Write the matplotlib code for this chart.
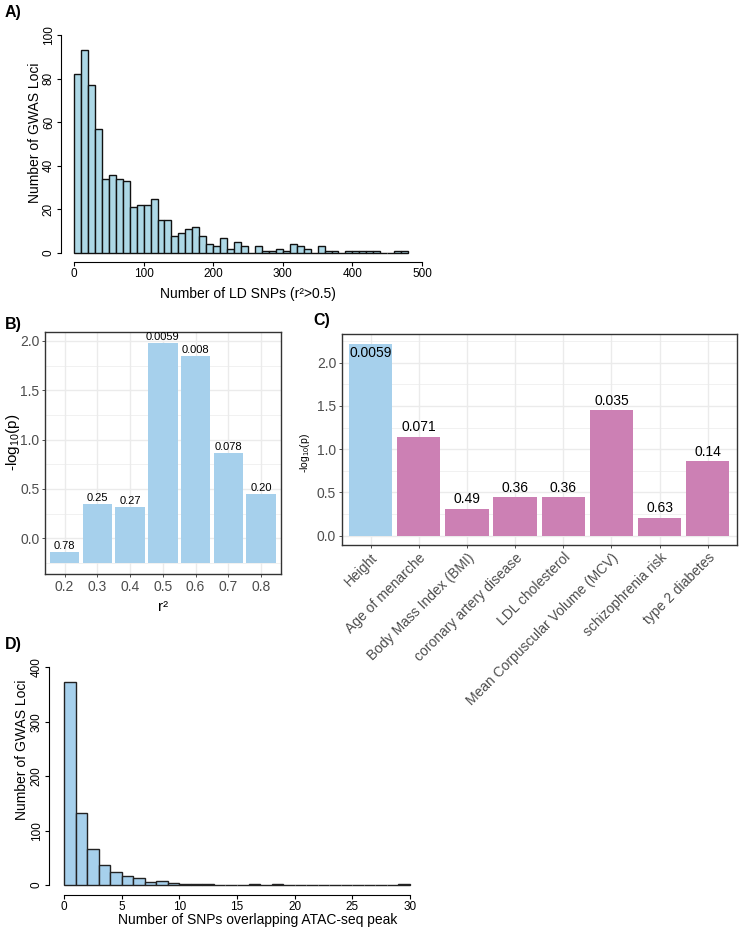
import numpy as np
import matplotlib
matplotlib.use('Agg')
import matplotlib.pyplot as plt
from matplotlib.transforms import ScaledTranslation

plt.rcParams['font.family'] = ['Liberation Sans', 'DejaVu Sans']
plt.rcParams['mathtext.fontset'] = 'custom'
plt.rcParams['mathtext.rm'] = 'Liberation Sans'
plt.rcParams['mathtext.it'] = 'Liberation Sans:italic'
plt.rcParams['mathtext.bf'] = 'Liberation Sans:bold'

# ---- data ----
# A) histogram of LD SNP counts, bins of 10 from 0 to 480
ld_bin_width = 10
ld_counts = [82, 93, 77, 57, 34, 36, 34, 33, 21, 22,
             22, 25, 15, 15, 8, 9, 11, 12, 8, 4,
             3, 7, 2, 5, 3, 0, 3, 1, 1, 2,
             1, 4, 3, 2, 0, 3, 1, 1, 0, 1,
             1, 1, 1, 1, 0, 0, 1, 1]

# B) enrichment by r2 threshold (bars start at -0.25)
r2_labels = ['0.2', '0.3', '0.4', '0.5', '0.6', '0.7', '0.8']
r2_heights = [-0.14, 0.35, 0.32, 1.98, 1.85, 0.86, 0.45]
r2_pvals = ['0.78', '0.25', '0.27', '0.0059', '0.008', '0.078', '0.20']
r2_base = -0.25

# C) enrichment by trait
traits = ['Height', 'Age of menarche', 'Body Mass Index (BMI)',
          'coronary artery disease', 'LDL cholesterol',
          'Mean Corpuscular Volume (MCV)', 'schizophrenia risk',
          'type 2 diabetes']
trait_heights = [2.22, 1.145, 0.31, 0.444, 0.444, 1.45, 0.205, 0.86]
trait_pvals = ['0.0059', '0.071', '0.49', '0.36', '0.36', '0.035', '0.63', '0.14']

# D) histogram of SNPs overlapping ATAC-seq peaks, bins of 1 from 0 to 30
atac_counts = [373, 132, 67, 37, 23, 17, 12, 5, 7, 3,
               1, 1, 1, 0, 0, 0, 1, 0, 1, 0,
               0, 0, 0, 0, 0, 0, 0, 0, 0, 1]

BLUE = '#A6D0EC'
PINK = '#CC80B4'
GREY_TXT = '#4D4D4D'
GRID = '#EBEBEB'

W, H = 741, 933
fig = plt.figure(figsize=(W / 100, H / 100), dpi=100)
PT = 72 / 100  # points per pixel


def px_axes(l, t, r, b):
    return fig.add_axes([l / W, 1 - b / H, (r - l) / W, (b - t) / H])


def ftext(x, y, s, **kw):
    fig.text(x / W, 1 - y / H, s, **kw)


def r_style(ax, xoff, yoff):
    for s in ['top', 'right']:
        ax.spines[s].set_visible(False)
    ax.spines['left'].set_position(('outward', xoff * PT))
    ax.spines['bottom'].set_position(('outward', yoff * PT))
    ax.tick_params(direction='out', length=4 * PT, width=0.8, pad=1.5,
                   labelsize=8.5, color='black')


# ---------------- A ----------------
ax1 = px_axes(74, 35, 422, 253)
edges = np.arange(len(ld_counts)) * ld_bin_width
ax1.bar(edges, ld_counts, width=ld_bin_width, align='edge', color='#ADD8E6',
        edgecolor='#111111', linewidth=1.0, clip_on=False)
ax1.set_xlim(0, 500)
ax1.set_ylim(0, 100)
r_style(ax1, 13, 9)
ax1.set_xticks(range(0, 501, 100))
ax1.set_yticks(range(0, 101, 20))
ax1.set_yticklabels([str(v) for v in range(0, 101, 20)], rotation=90, va='center')
ax1.spines['left'].set_bounds(0, 100)
ax1.spines['bottom'].set_bounds(0, 500)
ftext(5, 13, 'A)', fontsize=11.5, fontweight='bold', va='center')
ftext(35, 133, 'Number of GWAS Loci', fontsize=10, rotation=90, ha='center', va='center')
ftext(248, 294, 'Number of LD SNPs (r²>0.5)', fontsize=10, ha='center', va='center')

# ---------------- B ----------------
ax2 = px_axes(45, 331.7, 280.7, 574)
xb = np.arange(1, len(r2_labels) + 1)
ax2.bar(xb, np.array(r2_heights) - r2_base, bottom=r2_base, width=0.9,
        color=BLUE, zorder=2)
for x, h, p in zip(xb, r2_heights, r2_pvals):
    ax2.text(x, h + 0.01, p, ha='center', va='bottom', fontsize=8, zorder=3)
ax2.set_xlim(0.4, 7.6)
ax2.set_ylim(-0.362, 2.093)
ax2.set_xticks(xb)
ax2.set_xticklabels(r2_labels)
ax2.set_yticks([0, 0.5, 1.0, 1.5, 2.0])
ax2.set_yticklabels(['0.0', '0.5', '1.0', '1.5', '2.0'])
ax2.set_yticks([-0.25, 0.25, 0.75, 1.25, 1.75], minor=True)

# ---------------- C ----------------
ax3 = px_axes(341.7, 334.3, 736.7, 545)
xc = np.arange(1, len(traits) + 1)
cols = [BLUE] + [PINK] * (len(traits) - 1)
ax3.bar(xc, trait_heights, width=0.9, color=cols, zorder=2)
for i, (x, h, p) in enumerate(zip(xc, trait_heights, trait_pvals)):
    if i == 0:
        ax3.text(x, h - 0.03, p, ha='center', va='top', fontsize=10, zorder=3)
    else:
        ax3.text(x, h + 0.03, p, ha='center', va='bottom', fontsize=10, zorder=3)
ax3.set_xlim(0.4, 8.6)
ax3.set_ylim(-0.107, 2.328)
ax3.set_xticks(xc)
ax3.set_xticklabels(traits, rotation=45, ha='right', va='top', rotation_mode='anchor')
off = ScaledTranslation(5 / 100, 0, fig.dpi_scale_trans)
for lab in ax3.get_xticklabels():
    lab.set_transform(lab.get_transform() + off)
ax3.set_yticks([0, 0.5, 1.0, 1.5, 2.0])
ax3.set_yticklabels(['0.0', '0.5', '1.0', '1.5', '2.0'])
ax3.set_yticks([0.25, 0.75, 1.25, 1.75, 2.25], minor=True)

for ax in (ax2, ax3):
    ax.set_axisbelow(True)
    ax.grid(True, which='major', color=GRID, linewidth=1.0, zorder=0)
    ax.grid(True, which='minor', axis='y', color=GRID, linewidth=0.5, zorder=0)
    for s in ax.spines.values():
        s.set_color('#333333')
        s.set_linewidth(1.0)
    ax.tick_params(which='major', direction='out', length=2.5, width=0.6,
                   color='#333333', labelcolor=GREY_TXT, labelsize=10, pad=1.5)
    ax.tick_params(which='minor', length=0)

ftext(5, 325, 'B)', fontsize=11.5, fontweight='bold', va='center')
ftext(13, 442, '-log$_{10}$(p)', fontsize=11, rotation=90, ha='center', va='center')
ftext(163, 607, 'r²', fontsize=11, ha='center', va='center')

ftext(313, 320, 'C)', fontsize=11.5, fontweight='bold', va='center')
ftext(305, 453, '-log$_{10}$(p)', fontsize=7.5, rotation=90, ha='center', va='center')

# ---------------- D ----------------
ax4 = px_axes(64, 667.4, 410, 885)
edges_d = np.arange(len(atac_counts))
ax4.bar(edges_d, atac_counts, width=1, align='edge', color=BLUE,
        edgecolor='#222222', linewidth=1.0, clip_on=False)
ax4.set_xlim(0, 30)
ax4.set_ylim(0, 400)
r_style(ax4, 15, 10)
ax4.set_xticks(range(0, 31, 5))
ax4.set_yticks(range(0, 401, 100))
ax4.set_yticklabels([str(v) for v in range(0, 401, 100)], rotation=90, va='center')
ax4.spines['left'].set_bounds(0, 400)
ax4.spines['bottom'].set_bounds(0, 30)
ftext(5, 645, 'D)', fontsize=11.5, fontweight='bold', va='center')
ftext(22, 750, 'Number of GWAS Loci', fontsize=10, rotation=90, ha='center', va='center')
ftext(258, 920, 'Number of SNPs overlapping ATAC-seq peak', fontsize=10, ha='center', va='center')

fig.savefig('out.png', dpi=100)
